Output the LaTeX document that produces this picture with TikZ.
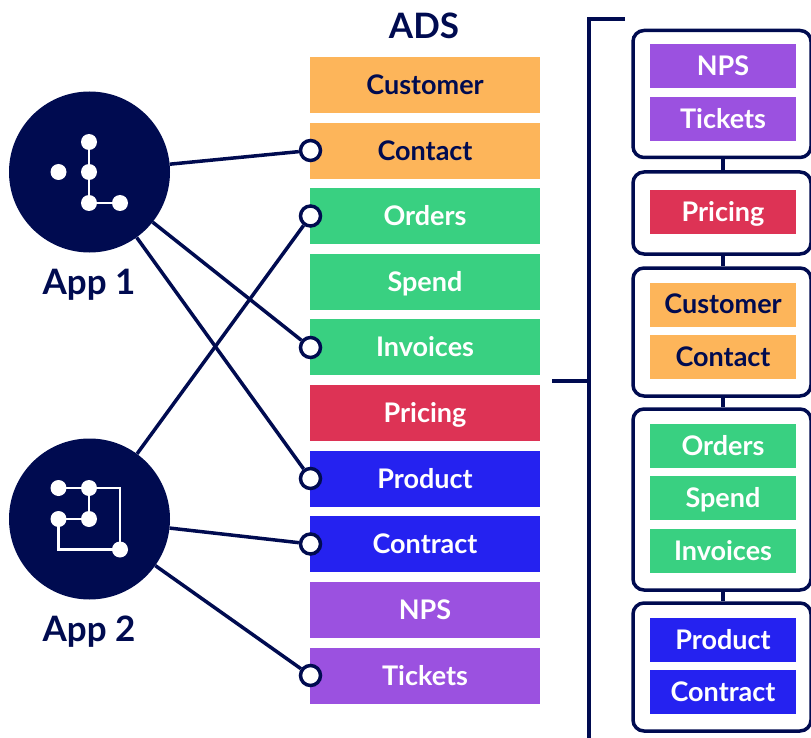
\documentclass[tikz,border=0pt]{standalone}
\usepackage{fontspec}
\setmainfont{Lato}
\definecolor{navy}{HTML}{000B50}
\definecolor{cOrange}{HTML}{FDB55A}
\definecolor{cGreen}{HTML}{39D081}
\definecolor{cRed}{HTML}{DD3355}
\definecolor{cBlue}{HTML}{2522F0}
\definecolor{cPurple}{HTML}{9B51E0}
\tikzset{
  block/.style={draw=none,inner sep=0pt,font=\fontsize{27}{27}\selectfont\bfseries,text=white,anchor=center,text height=19.5pt,text depth=0pt},
  midblock/.style={block,minimum width=230pt,minimum height=56pt},
  sideblock/.style={block,minimum width=146pt,minimum height=44pt},
  darktext/.style={text=navy},
  app/.style={circle,fill=navy,draw=none,minimum size=161pt,inner sep=0pt},
  applabel/.style={text=navy,font=\fontsize{35}{35}\selectfont\bfseries,inner sep=0pt,text height=24pt,text depth=0pt},
  port/.style={circle,draw=navy,line width=3.5pt,fill=white,minimum size=20pt,inner sep=0pt},
  link/.style={draw=navy,line width=3.5pt},
  frame/.style={draw=navy,line width=3.5pt,rounded corners=11pt,fill=white},
  icondot/.style={circle,fill=white,minimum size=16pt,inner sep=0pt},
  iconline/.style={draw=white,line width=2.5pt},
}
\begin{document}
\begin{tikzpicture}[x=1pt,y=-1pt]
\useasboundingbox (0,0) rectangle (811,738);
\clip (0,0) rectangle (811,738);
% title
\node[applabel] (ads) at (424,27) {ADS};
% middle column
\node[midblock,fill=cOrange,darktext] (customer) at (425,85) {Customer};
\node[midblock,fill=cOrange,darktext] (contact) at (425,151) {Contact};
\node[midblock,fill=cGreen] (orders) at (425,216) {Orders};
\node[midblock,fill=cGreen] (spend) at (425,282) {Spend};
\node[midblock,fill=cGreen] (invoices) at (425,347) {Invoices};
\node[midblock,fill=cRed] (pricing) at (425,413) {Pricing};
\node[midblock,fill=cBlue] (product) at (425,479) {Product};
\node[midblock,fill=cBlue] (contract) at (425,544) {Contract};
\node[midblock,fill=cPurple] (nps) at (425,610) {NPS};
\node[midblock,fill=cPurple] (tickets) at (425,676) {Tickets};
% apps
\node[app] (app1) at (89.5,172) {};
\node[app] (app2) at (89.5,519) {};
\node[applabel] (app1label) at (89,282) {App 1};
\node[applabel] (app2label) at (89,629) {App 2};
% ports
\node[port] (pContact) at (310.5,150.5) {};
\node[port] (pOrders) at (310.5,216) {};
\node[port] (pInvoices) at (310.5,347.5) {};
\node[port] (pProduct) at (310.5,478.5) {};
\node[port] (pContract) at (310.5,544) {};
\node[port] (pTickets) at (310.5,675.5) {};
% connectors
\draw[link] (app1) -- (pContact);
\draw[link] (app1) -- (pInvoices);
\draw[link] (app1) -- (pProduct);
\draw[link] (app2) -- (pOrders);
\draw[link] (app2) -- (pContract);
\draw[link] (app2) -- (pTickets);
% icon 1
\node[icondot] (a) at (89,142) {};
\node[icondot] (b) at (58.5,172) {};
\node[icondot] (c) at (89,172) {};
\node[icondot] (d) at (89,203) {};
\node[icondot] (e) at (120,203) {};
\draw[iconline] (a.center) -- (c.center) -- (d.center) -- (e.center);
% icon 2
\node[icondot] (f) at (58.5,488) {};
\node[icondot] (g) at (89,488) {};
\node[icondot] (h) at (58.5,519) {};
\node[icondot] (i) at (89,519) {};
\node[icondot] (j) at (120,549.5) {};
\draw[iconline] (f.center) -- (g.center) -- (i.center) -- (h.center) |- (j.center) -- (j.center |- g.center) -- (g.center);
% bracket
\coordinate (brTop) at (625,19);
\coordinate (brBot) at (589,738);
\coordinate (brIn) at (552,381);
\draw[link] (brTop) -| (brBot);
\draw[link] (brIn) -- (brIn -| brBot);
% right frames
\node[frame,minimum width=178pt,minimum height=127pt,inner sep=0pt] (f1) at (722,94) {};
\node[frame,minimum width=178pt,minimum height=82pt,inner sep=0pt] (f2) at (722,213) {};
\node[frame,minimum width=178pt,minimum height=128pt,inner sep=0pt] (f3) at (722,332) {};
\node[frame,minimum width=178pt,minimum height=181pt,inner sep=0pt] (f4) at (722,499.5) {};
\node[frame,minimum width=178pt,minimum height=128pt,inner sep=0pt] (f5) at (722,667) {};
\coordinate (x) at (723,0);
\draw[link] (f1.south -| x) -- (f2.north -| x);
\draw[link] (f2.south -| x) -- (f3.north -| x);
\draw[link] (f3.south -| x) -- (f4.north -| x);
\draw[link] (f4.south -| x) -- (f5.north -| x);
% right blocks
\node[sideblock,fill=cPurple] (nps2) at (723,66) {NPS};
\node[sideblock,fill=cPurple] (tickets2) at (723,119) {Tickets};
\node[sideblock,fill=cRed] (pricing2) at (723,212) {Pricing};
\node[sideblock,fill=cOrange,darktext,text height=16pt] (customer2) at (723,305) {Customer};
\node[sideblock,fill=cOrange,darktext] (contact2) at (723,357) {Contact};
\node[sideblock,fill=cGreen] (orders2) at (723,446) {Orders};
\node[sideblock,fill=cGreen] (spend2) at (723,498) {Spend};
\node[sideblock,fill=cGreen] (invoices2) at (723,551) {Invoices};
\node[sideblock,fill=cBlue] (product2) at (723,640) {Product};
\node[sideblock,fill=cBlue] (contract2) at (723,692) {Contract};
\end{tikzpicture}
\end{document}
